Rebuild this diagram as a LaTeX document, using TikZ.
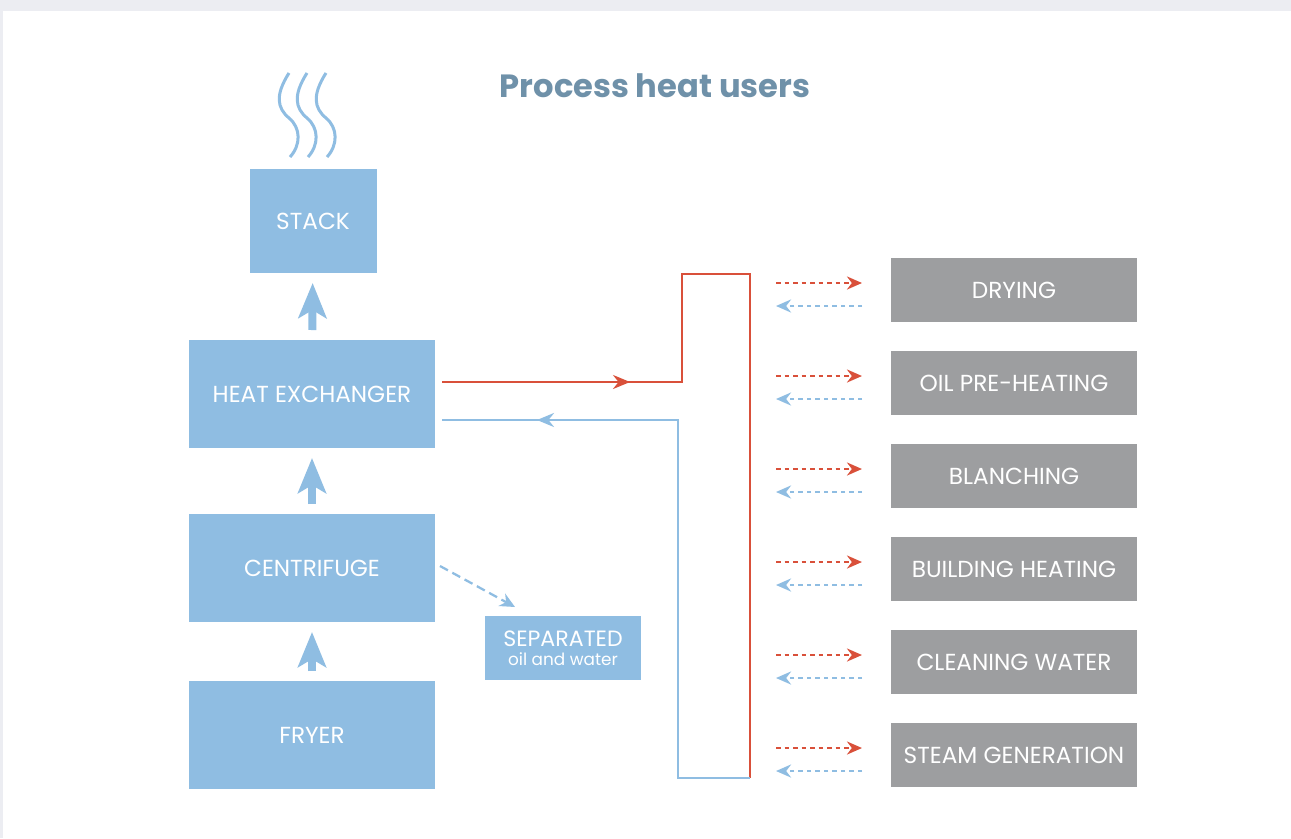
\documentclass[tikz,border=0pt]{standalone}
\usepackage{fontspec}
\setmainfont{Poppins}
\usetikzlibrary{arrows.meta,positioning,decorations.markings,calc}

\definecolor{boxblue}{HTML}{8FBDE2}
\definecolor{usergray}{HTML}{9D9EA0}
\definecolor{pipered}{HTML}{D9503A}
\definecolor{titleblue}{HTML}{6F91A9}
\definecolor{framegray}{HTML}{ECEDF2}

\begin{document}
\begin{tikzpicture}[x=0.2mm,y=-0.2mm,node distance=5.8mm,
		unit/.style={fill=boxblue,text=white,minimum width=49.2mm,minimum height=21.6mm,inner sep=0pt,outer sep=0pt,font=\fontsize{13.2}{15}\selectfont},
		user/.style={fill=usergray,text=white,minimum width=49.2mm,minimum height=12.8mm,inner sep=0pt,outer sep=0pt,font=\fontsize{13.2}{15}\selectfont},
		lift/.style={boxblue,line width=1.6mm,-{Stealth[length=7mm,width=5.6mm,inset=1.6mm]},shorten <=2mm,shorten >=2mm},
		pipe/.style={line width=0.5mm,postaction={decorate}},
		feed/.style={pipered,line width=0.5mm,dash pattern=on 0.9mm off 0.8mm,-{Stealth[length=3mm,width=2.6mm]}},
		back/.style={boxblue,line width=0.5mm,dash pattern=on 0.9mm off 0.8mm,-{Stealth[length=3mm,width=2.6mm]}}]
		\fill[framegray] (0,0) rectangle (1291,838);
		\fill[white] (3,11) rectangle (1291,838);

		\node[font=\bfseries\fontsize{18.3}{22}\selectfont,text=titleblue] (title) at (655,86) {Process heat users};

		% plant, bottom to top
		\node[unit] (fryer)      at (312,735) {FRYER};
		\node[unit] (centrifuge) at (312,568) {CENTRIFUGE};
		\node[unit] (hx)         at (312,394) {HEAT EXCHANGER};
		\node[unit,minimum width=25.4mm,minimum height=20.8mm] (stack) at (313,221) {STACK};
		\node[unit,minimum width=31.2mm,minimum height=12.8mm,align=center,font=\fontsize{12.6}{12}\selectfont]
		      (sep) at (563,648) {SEPARATED\\[-1pt]{\fontsize{9.6}{10}\selectfont oil and water}};

		\draw[lift] (fryer) -- (centrifuge);
		\draw[lift] (centrifuge) -- (hx);
		\draw[lift] (hx) -- (stack);
		\draw[boxblue,line width=0.45mm,dash pattern=on 1.8mm off 1mm,-{Stealth[length=3mm,width=2.8mm]}]
		      ($(centrifuge.east)+(5,-2)$) -- ($(sep.north west)+(30,-9)$);

		% smoke
		\foreach \x in {289,307,326}
			\draw[boxblue,line width=0.6mm] (\x,73) .. controls (\x-14,95) and (\x-12,108) .. (\x,118)
			      .. controls (\x+12,128) and (\x+12,145) .. (\x+1,157);

		% users
		\node[user] (drying) at (1014,290) {DRYING};
		\node[user,below=of drying]   (oilheat)   {OIL PRE-HEATING};
		\node[user,below=of oilheat]  (blanching) {BLANCHING};
		\node[user,below=of blanching](building)  {BUILDING HEATING};
		\node[user,below=of building] (cleaning)  {CLEANING WATER};
		\node[user,below=of cleaning] (steam)     {STEAM GENERATION};

		% header
		\coordinate (riser)  at (682,274);
		\coordinate (hdrtop) at (750,274);
		\coordinate (hdrbot) at (750,778);
		\coordinate (retbot) at (678,778);
		\draw[pipe,pipered,decoration={markings,mark=at position 37.6mm with {\arrow{Stealth[length=3.4mm,width=2.8mm]}}}]
		      ($(hx.east)+(7,-12)$) -| (riser) -- (hdrtop) -- (hdrbot);
		\draw[pipe,boxblue,decoration={markings,mark=at position 114.2mm with {\arrow{Stealth[length=3.4mm,width=2.8mm]}}}]
		      (hdrbot) -- (retbot) |- ($(hx.east)+(7,26)$);

		\foreach \u in {drying,oilheat,blanching,building,cleaning,steam} {
			\draw[feed] ($(\u.west)+(-115,-7)$) -- ($(\u.west)+(-29,-7)$);
			\draw[back] ($(\u.west)+(-29,16)$) -- ($(\u.west)+(-115,16)$);
		}
	\end{tikzpicture}
\end{document}
